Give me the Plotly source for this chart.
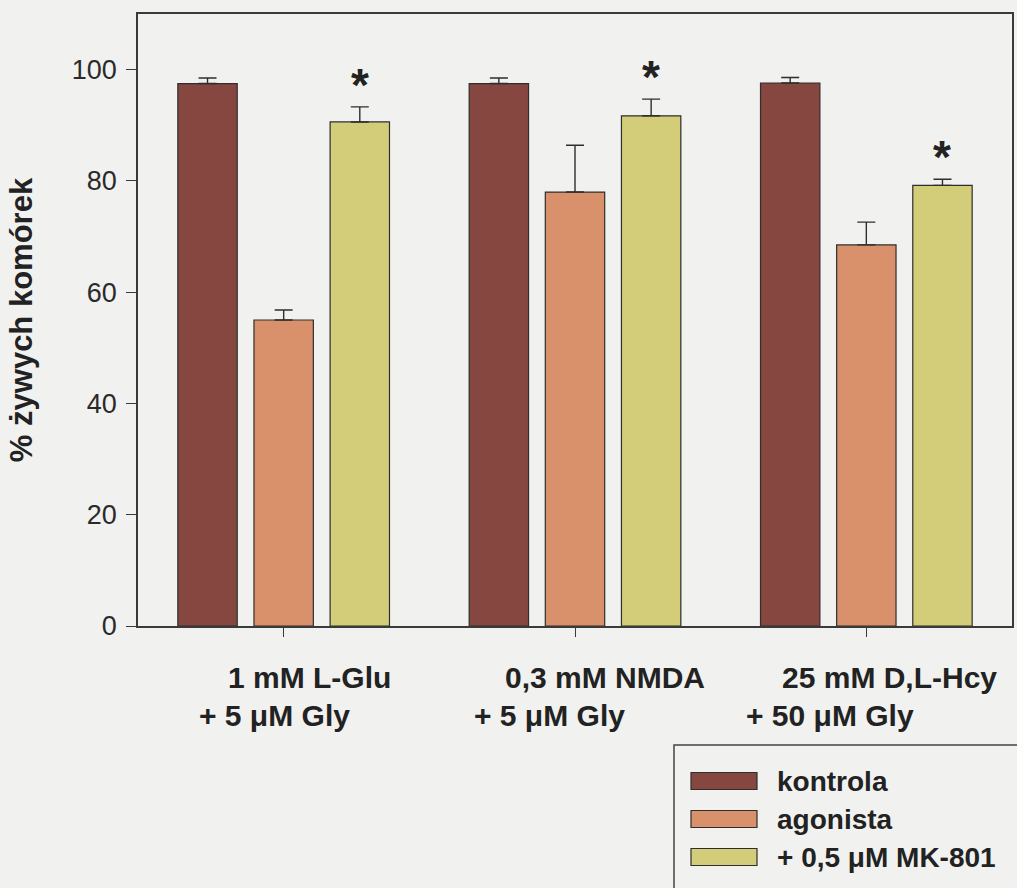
import plotly.graph_objects as go

# ---------------- data ----------------
groups_line1 = ["1 mM L-Glu", "0,3 mM NMDA", "25 mM D,L-Hcy"]
groups_line2 = ["+ 5 μM Gly", "+ 5 μM Gly", "+ 50 μM Gly"]
series_names = ["kontrola", "agonista", "+ 0,5 μM MK-801"]

kontrola = [97.5, 97.5, 97.6]
kontrola_err = [1.0, 1.0, 1.0]
agonista = [55.0, 78.0, 68.5]
agonista_err = [1.8, 8.4, 4.1]
mk801 = [90.6, 91.7, 79.2]
mk801_err = [2.7, 3.0, 1.1]
significant = [True, True, True]  # '*' above MK-801 bars

y_ticks = [0, 20, 40, 60, 80, 100]
y_title = "% żywych komórek"

# ---------------- style ----------------
colors = ["#874741", "#D8916A", "#D3CC78"]
bg = "#F1F1EF"
ink = "#333333"
FONT = "Liberation Sans, Arial, sans-serif"

W, H = 1017, 888
L, R, T, B = 138, 5, 14, 262
PW, PH = W - L - R, H - T - B

def px_x(x):
    return (x - L) / PW

def px_y(y):
    return (H - B - y) / PH

bargap, bargroupgap = 0.216, 0.22
slot = (1 - bargap) / 3
xs = list(range(len(groups_line1)))

fig = go.Figure()
for name, vals, errs, col in zip(series_names,
                                 [kontrola, agonista, mk801],
                                 [kontrola_err, agonista_err, mk801_err],
                                 colors):
    fig.add_trace(go.Bar(
        x=xs, y=vals, name=name,
        marker=dict(color=col, line=dict(color="#2e2e2e", width=1.2)),
        error_y=dict(type="data", symmetric=False, array=errs,
                     arrayminus=[0] * len(errs), color="#2e2e2e",
                     thickness=1.4, width=9),
        showlegend=False,
    ))

annotations = []
# significance stars
for i, (v, e, s) in enumerate(zip(mk801, mk801_err, significant)):
    if s:
        annotations.append(dict(x=i + slot, y=v + e, xref="x", yref="y",
                                text="<b>*</b>", showarrow=False,
                                yanchor="bottom", yshift=-6,
                                font=dict(size=46, color="#222", family=FONT)))

# x category labels (two lines, offset as in the original)
line1_dx = [26, 30, 23.5]
line2_dx = [-9.5, -26, -36]
for i in xs:
    annotations.append(dict(x=i + line1_dx[i] / (PW / 3), y=px_y(677),
                            xref="x", yref="paper", text="<b>%s</b>" % groups_line1[i],
                            showarrow=False, xanchor="center", yanchor="middle",
                            font=dict(size=30, color="#222", family=FONT)))
    annotations.append(dict(x=i + line2_dx[i] / (PW / 3), y=px_y(715),
                            xref="x", yref="paper", text="<b>%s</b>" % groups_line2[i],
                            showarrow=False, xanchor="center", yanchor="middle",
                            font=dict(size=30, color="#222", family=FONT)))

# legend (manual, to get the wide swatches)
shapes = [dict(type="rect", xref="paper", yref="paper",
               x0=px_x(674), x1=px_x(1040), y0=px_y(745), y1=px_y(910),
               line=dict(color="#444", width=1.5), fillcolor="rgba(0,0,0,0)")]
row_y = [781, 819, 857]
for name, col, ry in zip(series_names, colors, row_y):
    shapes.append(dict(type="rect", xref="paper", yref="paper",
                       x0=px_x(691), x1=px_x(757), y0=px_y(ry + 8.5), y1=px_y(ry - 8.5),
                       line=dict(color="#2e2e2e", width=1.2), fillcolor=col))
    annotations.append(dict(x=px_x(775), y=px_y(ry), xref="paper", yref="paper",
                            text="<b>%s</b>" % name, showarrow=False,
                            xanchor="left", yanchor="middle",
                            font=dict(size=28, color="#222", family=FONT)))

fig.update_layout(
    width=W, height=H,
    margin=dict(l=L, r=R, t=T, b=B, pad=0),
    paper_bgcolor=bg, plot_bgcolor=bg,
    barmode="group", bargap=bargap, bargroupgap=bargroupgap,
    annotations=annotations, shapes=shapes,
    font=dict(family=FONT, color=ink),
)
fig.update_xaxes(range=[-0.5, 2.5], tickvals=xs, ticktext=["", "", ""],
                 ticks="outside", ticklen=9, tickwidth=1.4, tickcolor="#3a3a3a",
                 showline=True, linecolor="#3a3a3a", linewidth=1.6, mirror=True,
                 showgrid=False, zeroline=False, automargin=False)
fig.update_yaxes(range=[0, 110], tickvals=y_ticks,
                 ticks="outside", ticklen=10, tickwidth=1.4, tickcolor="#3a3a3a",
                 tickfont=dict(size=27, color="#2a2a2a", family=FONT),
                 ticklabelstandoff=4,
                 showline=True, linecolor="#3a3a3a", linewidth=1.6, mirror=True,
                 showgrid=False, zeroline=False, automargin=False,
                 title=dict(text="<b>%s</b>" % y_title, standoff=30,
                            font=dict(size=31, color="#222", family=FONT)))

fig.write_html(
    "out.html",
    config={"displayModeBar": False},
    post_script="document.body.style.margin='0';document.body.style.background='%s';" % bg,
)
